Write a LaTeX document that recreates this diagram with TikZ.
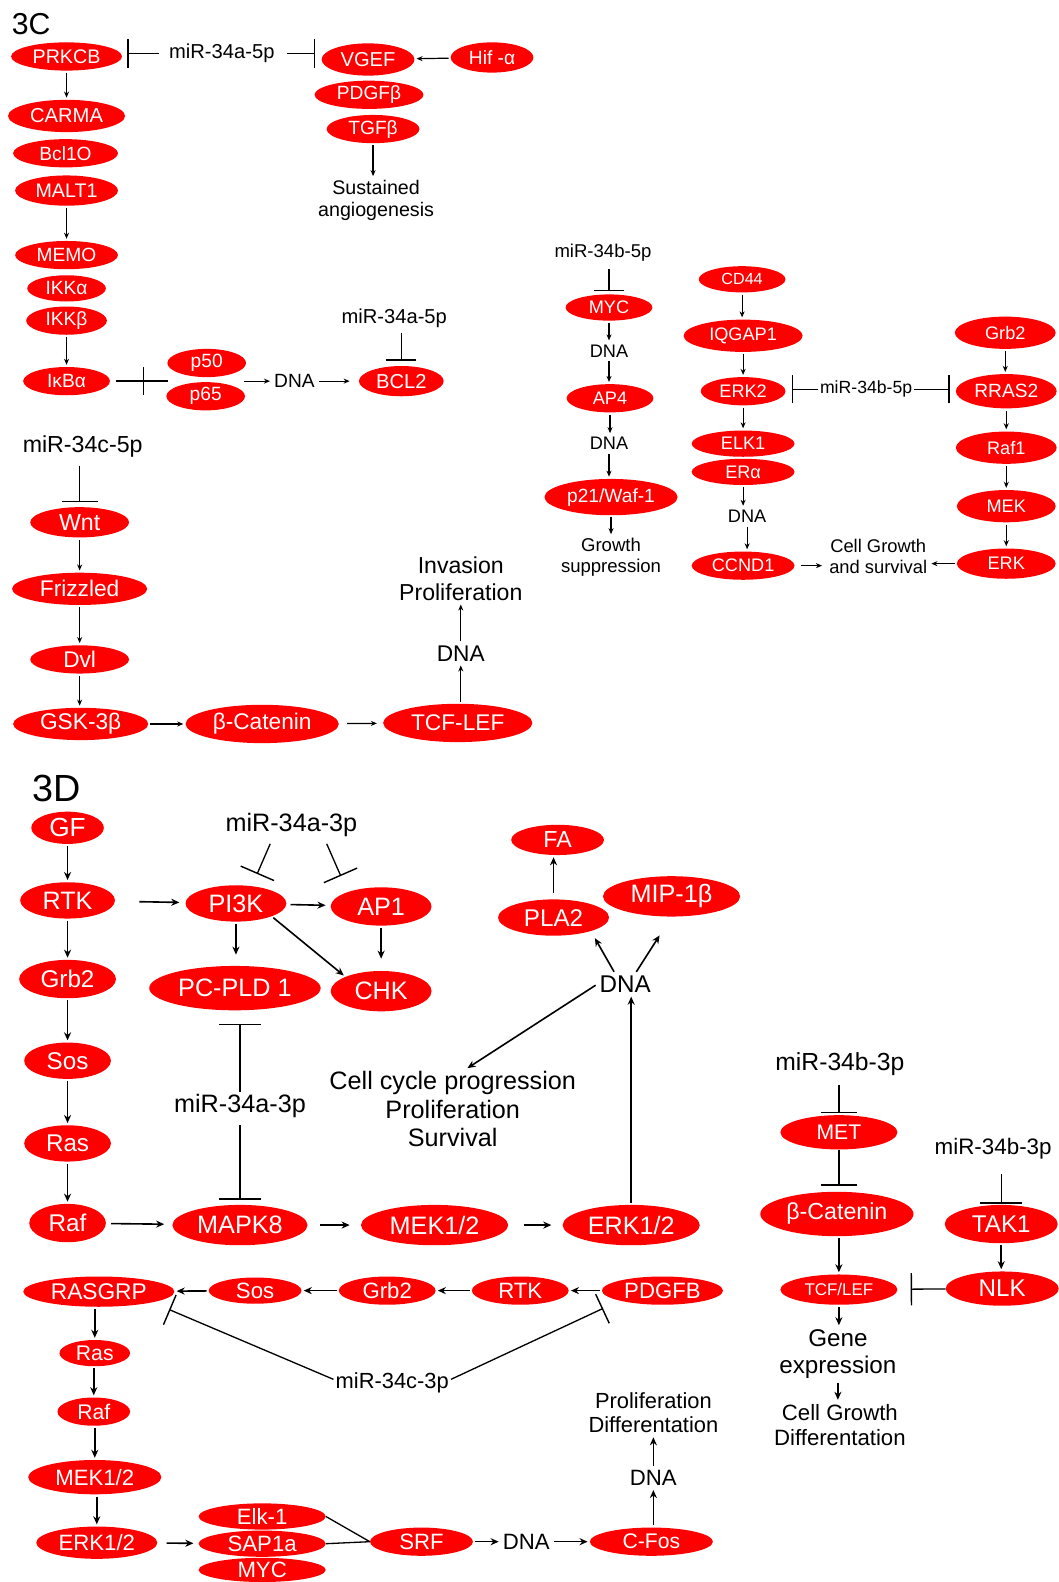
\documentclass[tikz,border=0pt]{standalone}
\usepackage{fontspec}
\setmainfont{Liberation Sans}
\usetikzlibrary{shapes.geometric,arrows.meta}
\newcommand\fsz[1]{\fontsize{#1}{#1}\selectfont\setlength\baselineskip{1.13\baselineskip}}
\tikzset{
  gene/.style n args={3}{ellipse,fill=red,text=white,inner sep=0pt,minimum width=#1pt,minimum height=#2pt,font=\fsz{#3}},
  lbl/.style={inner sep=2pt,align=center,font=\fsz{#1}},
  lbl/.default=20,
  act/.style={-{Stealth[length=6pt,width=5pt]},line width=1.2pt,shorten <=2pt,shorten >=2pt},
  actD/.style={-{Stealth[length=8pt,width=7pt]},line width=1.6pt,shorten <=2pt,shorten >=2pt},
  inh/.style={-{Bar[width=#1pt,line width=1.4pt]},line width=1.3pt},
  inh/.default=28
}
\begin{document}
\begin{tikzpicture}[x=1pt,y=-1pt]
\fill[white] (0,0) rectangle (1049,1568);
% 3C
\node[lbl=30] (t3c) at (31,24) {3C};
\node[gene={110}{28}{19.5}] (prkcb) at (66,56) {PRKCB};
\node[lbl=20] (mira1) at (220,53) {miR-34a-5p};
\node[gene={92}{32}{20}] (vgef) at (365,59) {VGEF};
\node[gene={82}{30}{19}] (hif) at (488,57) {Hif -α};
\node[gene={108}{28}{19}] (pdgfb) at (366,94) {PDGFβ};
\node[gene={92}{28}{19}] (tgfb) at (370,128) {TGFβ};
\node[lbl=19.5] (angio) at (373,199) {Sustained\\angiogenesis};
\node[gene={116}{32}{20}] (carma) at (66,115) {CARMA};
\node[gene={104}{28}{19}] (bcl10) at (65,152) {Bcl1O};
\node[gene={102}{30}{19.5}] (malt1) at (66,189) {MALT1};
\node[gene={102}{28}{19}] (memo) at (66,253) {MEMO};
\node[gene={78}{26}{19}] (ikka) at (66,286) {IKKα};
\node[gene={80}{28}{19}] (ikkb) at (66,318) {IKKβ};
\node[gene={86}{28}{19}] (ikba) at (66,378) {IκBα};
\node[gene={78}{28}{19}] (p50) at (205,360) {p50};
\node[gene={78}{28}{19}] (p65) at (204,393) {p65};
\node[lbl=19] (dnaa) at (292,378) {DNA};
\node[gene={84}{30}{20}] (bcl2) at (398,378) {BCL2};
\node[lbl=20] (mira2) at (391,316) {miR-34a-5p};
\coordinate (ikbx) at (142,378);
\coordinate (pp) at (167,378);
\coordinate (ppr) at (240,378);
\foreach \a/\b in {prkcb/carma,malt1/memo,ikkb/ikba,tgfb/angio}
  \draw[act] (\a.south) -- (\a.south |- \b.north);
\draw[act] (hif) -- (vgef);
\draw[inh,shorten <=8pt,shorten >=5pt] (mira1.west) -- (mira1.west -| prkcb.east);
\draw[inh,shorten <=10pt,shorten >=6pt] (mira1.east) -- (mira1.east -| vgef.west);
\draw[line width=1.3pt,shorten <=6pt] (ikba) -- (pp);
\draw[line width=1.3pt] ([yshift=14pt]ikbx) -- ([yshift=-14pt]ikbx);
\draw[act] (ppr) -- (dnaa);
\draw[act,shorten >=9pt] (dnaa) -- (bcl2);
\draw[inh=30,shorten <=3pt,shorten >=5pt] (mira2.south -| bcl2) -- (bcl2.north);
% 3C right
\node[lbl=18.4] (mirb1) at (598,251) {miR-34b-5p};
\node[gene={86}{26}{18}] (myc) at (604,305) {MYC};
\node[lbl=18] (dnab1) at (604,348) {DNA};
\node[gene={86}{28}{18}] (ap4) at (605,395) {AP4};
\node[lbl=18] (dnab2) at (604,440) {DNA};
\node[gene={132}{36}{19}] (p21) at (606,493) {p21/Waf-1};
\node[lbl=18.4] (growth) at (606,553) {Growth\\suppression};
\node[gene={86}{26}{16}] (cd44) at (736,277) {CD44};
\node[gene={118}{32}{18}] (iqgap) at (737,333) {IQGAP1};
\node[gene={84}{28}{18}] (erk2) at (737,388) {ERK2};
\node[lbl=17.5] (mirb2) at (859,386) {miR-34b-5p};
\node[gene={102}{26}{18}] (elk1) at (737,440) {ELK1};
\node[gene={102}{26}{18}] (era) at (737,468) {ERα};
\node[lbl=18] (dnab3) at (741,512) {DNA};
\node[gene={102}{28}{18}] (ccnd1) at (737,561) {CCND1};
\node[lbl=18.2] (cellg) at (871,552) {Cell Growth\\and survival};
\node[gene={100}{32}{18}] (grb2a) at (997,330) {Grb2};
\node[gene={100}{34}{19}] (rras2) at (998,388) {RRAS2};
\node[gene={100}{32}{18}] (raf1) at (998,444) {Raf1};
\node[gene={98}{32}{18}] (mek) at (998,502) {MEK};
\node[gene={98}{30}{18}] (erk) at (998,559) {ERK};
\draw[inh=30,shorten <=5pt,shorten >=3pt] (mirb1.south -| myc) -- (myc.north);
\foreach \a/\b in {myc/dnab1,dnab1/ap4,ap4/dnab2,dnab2/p21,p21/growth,cd44/iqgap,iqgap/erk2,erk2/elk1,era/dnab3,dnab3/ccnd1,grb2a/rras2,rras2/raf1,raf1/mek,mek/erk}
  \draw[act] (\a.south) -- (\a.south |- \b.north);
\draw[inh,shorten >=6pt] (mirb2.west) -- (mirb2.west -| erk2.east);
\draw[inh,shorten >=6pt] (mirb2.east) -- (mirb2.east -| rras2.west);
\draw[act,shorten <=6pt,shorten >=5pt] (ccnd1.east) -- (ccnd1.east -| cellg.west);
\draw[act] (erk.west) -- (erk.west -| cellg.east);
% 3C lower
\node[lbl=23] (mirc1) at (82,443) {miR-34c-5p};
\node[gene={98}{30}{23}] (wnt) at (79,518) {Wnt};
\node[gene={134}{32}{22.5}] (friz) at (79,584) {Frizzled};
\node[gene={98}{28}{22.5}] (dvl) at (79,654) {Dvl};
\node[gene={134}{32}{22.5}] (gsk) at (80,718) {GSK-3β};
\node[gene={152}{38}{22.5}] (bcat1) at (260,718) {β-Catenin};
\node[gene={148}{38}{22.5}] (tcf1) at (454,717) {TCF-LEF};
\node[lbl=22.5] (dnac) at (457,648) {DNA};
\node[lbl=22.9] (inv) at (457,574) {Invasion\\Proliferation};
\draw[inh=36,shorten <=6pt,shorten >=5pt] (mirc1.south -| wnt) -- (wnt.north);
\foreach \a/\b in {wnt/friz,friz/dvl,dvl/gsk}
  \draw[act] (\a.south) -- (\a.south |- \b.north);
\foreach \a/\b in {tcf1/dnac,dnac/inv}
  \draw[act] (\b.south |- \a.north) -- (\b.south);
\draw[act] (gsk) -- (bcat1);
\draw[act,shorten <=8pt,shorten >=6pt] (bcat1) -- (tcf1);
% 3D
\node[lbl=37.5] (t3d) at (56,782) {3D};
\node[gene={72}{32}{26}] (gf) at (67,821) {GF};
\node[gene={94}{36}{25}] (rtk1) at (67,893) {RTK};
\node[gene={96}{38}{24}] (grb2b) at (67,971) {Grb2};
\node[gene={86}{36}{24}] (sos1) at (67,1052) {Sos};
\node[gene={86}{36}{24}] (ras1) at (67,1134) {Ras};
\node[gene={76}{38}{24}] (raf1b) at (67,1213) {Raf};
\node[lbl=25] (mird1) at (289,818) {miR-34a-3p};
\node[gene={100}{36}{25}] (pi3k) at (234,896) {PI3K};
\node[gene={100}{38}{25}] (ap1) at (378,899) {AP1};
\node[gene={170}{44}{25}] (pcpld) at (233,980) {PC-PLD 1};
\node[gene={100}{40}{25}] (chk) at (378,983) {CHK};
\node[lbl=25] (mird2) at (238,1097) {miR-34a-3p};
\node[gene={134}{40}{25}] (mapk8) at (238,1215) {MAPK8};
\node[gene={146}{40}{25}] (mek12) at (431,1215) {MEK1/2};
\node[gene={136}{40}{25}] (erk12) at (626,1215) {ERK1/2};
\node[lbl=24] (dnad) at (620,976) {DNA};
\node[gene={110}{36}{24}] (pla2) at (549,910) {PLA2};
\node[gene={92}{30}{23}] (fa) at (553,833) {FA};
\node[gene={136}{40}{25}] (mip) at (666,889) {MIP-1β};
\node[lbl=25] (cellc) at (449,1100) {Cell cycle progression\\Proliferation\\Survival};
\foreach \a/\b in {gf/rtk1,rtk1/grb2b,grb2b/sos1,sos1/ras1,ras1/raf1b}
  \draw[actD] (\a.south) -- (\a.south |- \b.north);
\draw[actD,shorten <=24pt,shorten >=6pt] (rtk1) -- (pi3k);
\draw[actD,shorten <=4pt,shorten >=5pt] (pi3k) -- (ap1);
\draw[actD,shorten >=11pt] (pi3k.south) -- (pi3k.south |- pcpld.north);
\draw[actD] (pi3k.south east) -- (chk.north west);
\draw[actD,shorten >=12pt] (ap1.south) -- (ap1.south |- chk.north);
\draw[inh=36] ([xshift=-21pt,yshift=-5pt]mird1.south) -- ([xshift=21pt,yshift=11pt]pi3k.north);
\draw[inh=36] ([xshift=35pt,yshift=-5pt]mird1.south) -- ([xshift=-40pt,yshift=11pt]ap1.north);
\draw[inh=42,shorten >=13pt] (mird2.north) -- (mird2.north |- pcpld.south);
\draw[inh=42,shorten <=5pt,shorten >=5pt] (mird2.south) -- (mird2.south |- mapk8.north);
\draw[actD,shorten <=5pt,shorten >=8pt] (raf1b) -- (mapk8);
\draw[actD,shorten <=12pt,shorten >=11pt] (mapk8) -- (mek12);
\draw[actD,shorten <=15pt,shorten >=11pt] (mek12) -- (erk12);
\draw[actD] (erk12.north) -- (erk12.north |- dnad.south);
\draw[actD,shorten >=8pt] ([xshift=-10pt]dnad.north) -- (pla2.340);
\draw[actD,shorten >=22pt] ([xshift=10pt]dnad.north) -- (mip.south);
\draw[actD,shorten <=6pt] (pla2.north) -- (pla2.north |- fa.south);
\draw[actD] (dnad.west) -- ([xshift=13pt]cellc.north);
% 3D right
\node[lbl=24.5] (mird3) at (833,1055) {miR-34b-3p};
\node[gene={116}{34}{21}] (met) at (832,1123) {MET};
\node[gene={152}{44}{23}] (bcat2) at (830,1204) {β-Catenin};
\node[gene={116}{30}{16.8}] (tcf2) at (832,1279) {TCF/LEF};
\node[lbl=22.2] (mird4) at (985,1139) {miR-34b-3p};
\node[gene={112}{38}{24}] (tak1) at (993,1214) {TAK1};
\node[gene={112}{34}{24}] (nlk) at (994,1278) {NLK};
\node[lbl=24] (gene) at (831,1343) {Gene\\expression};
\node[lbl=22] (cgd) at (833,1413) {Cell Growth\\Differentation};
\draw[inh=36,shorten <=7pt,shorten >=2pt] (mird3.south -| met) -- (met.north);
\draw[inh=36,shorten >=6pt] (met.south) -- (met.south |- bcat2.north);
\draw[inh=42,shorten <=13pt,shorten >=1pt] (mird4.south -| tak1) -- (tak1.north);
\foreach \a/\b in {tcf2/gene,gene/cgd,tak1/nlk}
  \draw[actD] (\a.south) -- (\a.south |- \b.north);
\draw[actD] (tcf2.north |- bcat2.south) -- (tcf2.north);
\draw[inh=32,shorten >=13pt] (nlk) -- (tcf2);
% 3D bottom
\node[gene={150}{30}{22.5}] (rasgrp) at (98,1281) {RASGRP};
\node[gene={92}{26}{22}] (sos2) at (253,1280) {Sos};
\node[gene={96}{28}{22}] (grb2c) at (384,1280) {Grb2};
\node[gene={96}{28}{22}] (rtk2) at (516,1280) {RTK};
\node[gene={120}{28}{22}] (pdgfb2) at (657,1280) {PDGFB};
\node[lbl=21.7] (mird5) at (389,1371) {miR-34c-3p};
\node[gene={70}{26}{21}] (ras2) at (94,1342) {Ras};
\node[gene={72}{28}{21}] (raf2) at (93,1400) {Raf};
\node[gene={132}{34}{22}] (mek2) at (94,1465) {MEK1/2};
\node[gene={120}{32}{22}] (erk2b) at (96,1530) {ERK1/2};
\node[gene={126}{26}{22}] (elk) at (260,1504) {Elk-1};
\node[gene={126}{26}{22}] (sap) at (260,1531) {SAP1a};
\node[gene={126}{24}{22}] (myc2) at (260,1557) {MYC};
\node[gene={102}{28}{22}] (srf) at (418,1529) {SRF};
\node[lbl=22] (dnae) at (522,1529) {DNA};
\node[gene={122}{28}{21}] (cfos) at (646,1529) {C-Fos};
\node[lbl=22] (dnaf) at (648,1466) {DNA};
\node[lbl=21.7] (prolif) at (648,1401) {Proliferation\\Differentation};
\foreach \a/\b in {pdgfb2/rtk2,rtk2/grb2c,grb2c/sos2,sos2/rasgrp,srf/dnae,dnae/cfos}
  \draw[actD] (\a) -- (\b);
\foreach \a/\b in {rasgrp/ras2,ras2/raf2,raf2/mek2,mek2/erk2b}
  \draw[actD] (\b.north |- \a.south) -- (\b.north);
\foreach \a/\b in {cfos/dnaf,dnaf/prolif}
  \draw[actD] (\b.south |- \a.north) -- (\b.south);
\draw[actD,shorten <=9pt,shorten >=5pt] (erk2b) -- (sap);
\draw[line width=1.3pt] (elk.east) -- (srf.west);
\draw[line width=1.3pt] (sap.east) -- (srf.west);
\draw[inh=32,shorten >=18pt] ([yshift=3pt]mird5.west) -- (rasgrp.south east);
\draw[inh=32,shorten >=18pt] ([yshift=3pt]mird5.east) -- (pdgfb2.south west);
\end{tikzpicture}
\end{document}
